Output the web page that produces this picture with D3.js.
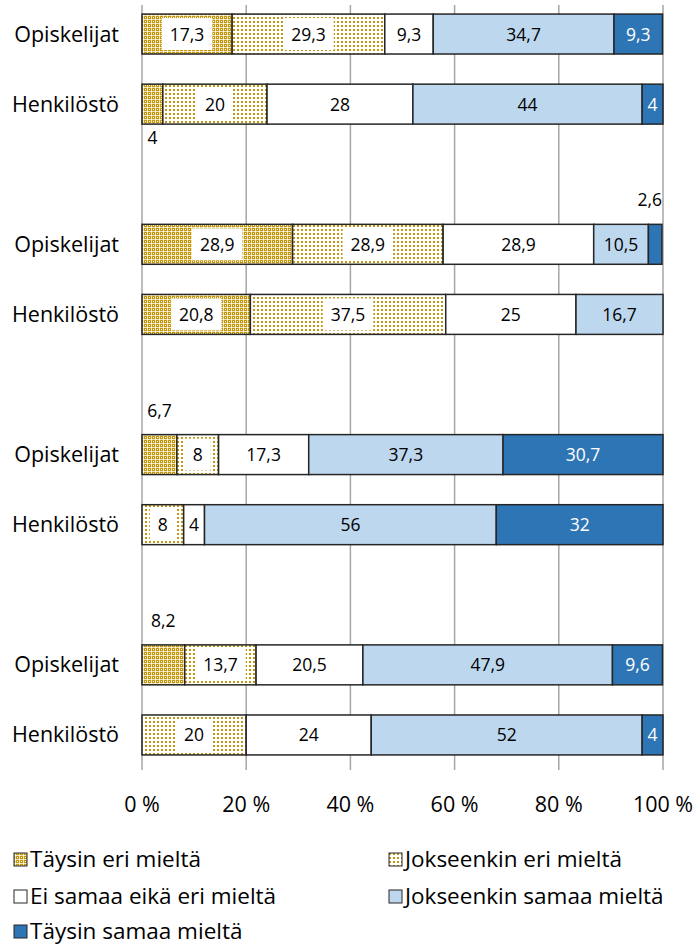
<!DOCTYPE html>
<html><head><meta charset="utf-8">
<script src="https://cdn.jsdelivr.net/npm/d3@7"></script>
<style>body{margin:0;background:#fff}svg{display:block}text{font-family:"Open Sans",sans-serif}</style>
</head><body><div id="c"></div>
<script>
const rows = ["Opiskelijat","Henkilöstö","","Opiskelijat","Henkilöstö","","Opiskelijat","Henkilöstö","","Opiskelijat","Henkilöstö"];
const series = ["Täysin eri mieltä","Jokseenkin eri mieltä","Ei samaa eikä eri mieltä","Jokseenkin samaa mieltä","Täysin samaa mieltä"];
const taysinEri     = [17.3, 4, null, 28.9, 20.8, null, 6.7, 0, null, 8.2, 0];
const jokseenkinEri = [29.3, 20, null, 28.9, 37.5, null, 8, 8, null, 13.7, 20];
const eiSamaa       = [9.3, 28, null, 28.9, 25, null, 17.3, 4, null, 20.5, 24];
const jokseenkinSam = [34.7, 44, null, 10.5, 16.7, null, 37.3, 56, null, 47.9, 52];
const taysinSamaa   = [9.3, 4, null, 2.6, 0, null, 30.7, 32, null, 9.6, 4];
const xTicks = [0, 20, 40, 60, 80, 100];
// labels drawn outside the bar: [row, series, side]
const outsideLabels = [[1,0,"below"],[3,4,"above"],[6,0,"above"],[9,0,"above"]];

const W = 699, H = 946;
const svg = d3.select("#c").append("svg").attr("width", W).attr("height", H);
const defs = svg.append("defs");
const gold = "#c3980f";
// pattern: dense plaid (Täysin eri)
const p1 = defs.append("pattern").attr("id","pTE").attr("patternUnits","userSpaceOnUse").attr("width",4).attr("height",4);
p1.append("rect").attr("width",4).attr("height",4).attr("fill",gold);
p1.append("rect").attr("x",3).attr("y",0).attr("width",1).attr("height",4).attr("fill","#f1e3b8");
p1.append("rect").attr("x",0).attr("y",3).attr("width",4).attr("height",1).attr("fill","#f1e3b8");
p1.append("rect").attr("x",3).attr("y",3).attr("width",1).attr("height",1).attr("fill","#ffffff");
p1.append("rect").attr("x",1).attr("y",1).attr("width",1).attr("height",1).attr("fill","#ffffff");
// pattern: dots (Jokseenkin eri)
const p2 = defs.append("pattern").attr("id","pJE").attr("patternUnits","userSpaceOnUse").attr("width",4).attr("height",4);
p2.append("rect").attr("width",4).attr("height",4).attr("fill","#fff");
p2.append("rect").attr("x",1).attr("y",1).attr("width",2).attr("height",2).attr("fill",gold);

const fills = ["url(#pTE)","url(#pJE)","#ffffff","#bdd7ee","#2e75b6"];
const seriesData = [taysinEri, jokseenkinEri, eiSamaa, jokseenkinSam, taysinSamaa];

const x = d3.scaleLinear().domain([0,100]).range([142, 663]);
const y = d3.scaleBand().domain(d3.range(rows.length)).range([-1, 770]).paddingInner(0.43).paddingOuter(0.215);

// gridlines
svg.append("g").selectAll("line").data(xTicks).join("line")
  .attr("x1", d=>x(d)).attr("x2", d=>x(d)).attr("y1", 5).attr("y2", 770)
  .attr("stroke", "#a6a6a6").attr("stroke-width", 1.5);

// axis labels
svg.append("g").selectAll("text").data(xTicks).join("text")
  .attr("x", d=>x(d)).attr("y", 812).attr("text-anchor","middle")
  .attr("font-size", 21.5).attr("fill","#000").text(d=>d+" %");

// category labels
svg.append("g").selectAll("text").data(rows.map((r,i)=>({r,i})).filter(d=>d.r)).join("text")
  .attr("x", 119).attr("y", d=>y(d.i)+y.bandwidth()/2+7.5).attr("text-anchor","end")
  .attr("font-size", 21.5).attr("fill","#000").text(d=>d.r);

const fmt = v => String(v).replace(".", ",");
const isOutside = (r,s) => outsideLabels.find(o=>o[0]===r && o[1]===s);

rows.forEach((r,i)=>{
  if(!r) return;
  let cum = 0;
  const g = svg.append("g");
  const segs = seriesData.map((arr,s)=>{ const v=arr[i]; const o={s,v,x0:cum,x1:cum+v}; cum+=v; return o; }).filter(d=>d.v>0);
  g.selectAll("rect").data(segs).join("rect")
    .attr("x", d=>x(d.x0)).attr("width", d=>x(d.x1)-x(d.x0))
    .attr("y", y(i)).attr("height", y.bandwidth())
    .attr("fill", d=>fills[d.s]).attr("stroke","#262626").attr("stroke-width",1.5);
  segs.forEach(d=>{
    const cx = (x(d.x0)+x(d.x1))/2, cy = y(i)+y.bandwidth()/2;
    const o = isOutside(i,d.s);
    if(o){
      const anchorRight = x(d.x1) > 640;
      g.append("text").attr("font-size",17.5).attr("fill","#000").text(fmt(d.v))
        .attr("x", anchorRight ? x(d.x1) : cx)
        .attr("text-anchor", anchorRight ? "end" : "middle")
        .attr("y", o[2]==="below" ? y(i)+y.bandwidth()+20 : y(i)-18);
      return;
    }
    const t = g.append("text").attr("font-size",17.5).attr("text-anchor","middle")
      .attr("x", cx).attr("y", cy+6.5).attr("fill", d.s===4 ? "#fff" : "#000").text(fmt(d.v));
    if(d.s<2){
      const bb = t.node().getBBox();
      g.insert("rect", () => t.node())
        .attr("x", bb.x-8).attr("width", bb.width+16)
        .attr("y", y(i)+4).attr("height", y.bandwidth()-8).attr("fill","#fff");
    }
  });
});

// legend
const legPos = [[14,859],[389,859],[14,896],[389,896],[14,931]];
const lg = svg.append("g");
series.forEach((s,k)=>{
  const [lx,ly] = legPos[k];
  lg.append("rect").attr("x",lx).attr("y",ly-6).attr("width",13).attr("height",13)
    .attr("fill",fills[k]).attr("stroke","#262626").attr("stroke-width",1);
  lg.append("text").attr("x",lx+16).attr("y",ly+8).attr("font-size",22.5).attr("fill","#000").text(s);
});
</script></body></html>
